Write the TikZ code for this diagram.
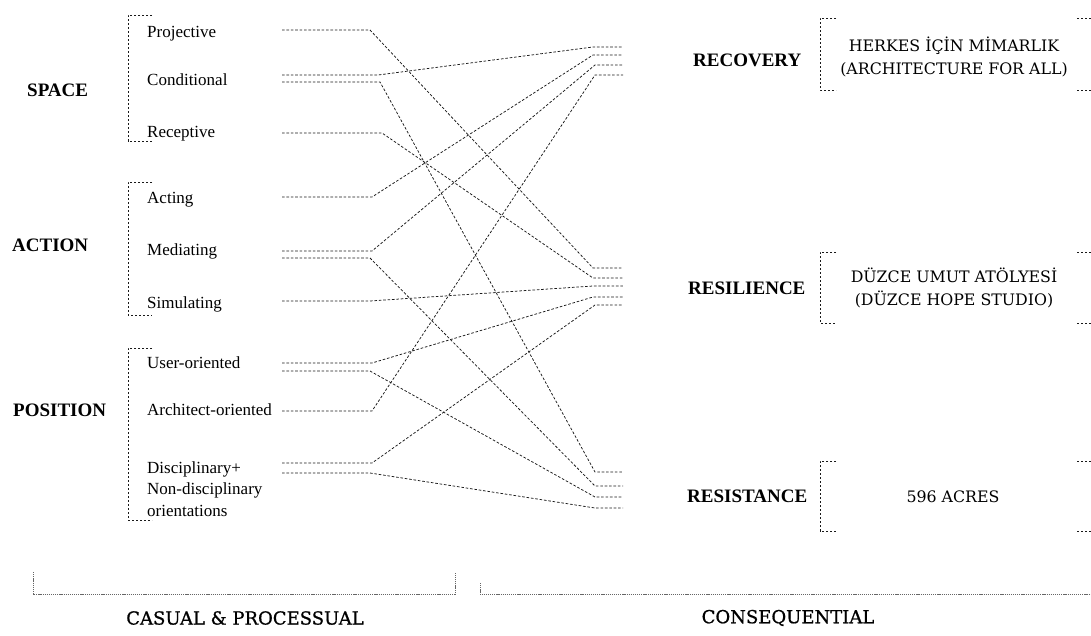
\documentclass[tikz,border=0pt]{standalone}
\usepackage{fontspec}
\setmainfont{Liberation Serif}
\newfontfamily\slab{DejaVu Serif}
\newfontfamily\slabheavy[FakeBold=0.8]{DejaVu Serif}
\begin{document}
\begin{tikzpicture}[x=1pt,y=-1pt,
  link/.style={draw=black!90, line width=0.75pt, dash pattern=on 2.6pt off 1.8pt},
  brk/.style={draw=black!90, line width=0.75pt, dash pattern=on 2.4pt off 1.6pt},
  foot/.style={draw=black!60, line width=0.6pt, dash pattern=on 1.2pt off 0.9pt},
  itemtxt/.style={anchor=base west, inner sep=0pt, font=\fontsize{17}{21}\selectfont},
  itemmulti/.style={anchor=west, inner sep=0pt, align=left, font=\fontsize{17}{21.5}\selectfont},
  cattxt/.style={anchor=base west, inner sep=0pt, font=\fontsize{19}{22}\selectfont\bfseries},
  boxtxt/.style={anchor=center, inner sep=0pt, align=center, font=\slab\fontsize{15.8}{23.5}\selectfont},
  foottxt/.style={anchor=center, inner sep=0pt, font=\slabheavy\fontsize{18}{21}\selectfont}
]
\useasboundingbox (0,0) rectangle (1091,635);

% left category labels
\node[cattxt] (space) at (27,96.5) {SPACE};
\node[cattxt] (action) at (12,251.5) {ACTION};
\node[cattxt] (position) at (13,416.5) {POSITION};

% left brackets
\draw[brk] (152,15) -- (128,15) -- (128,141) -- (152,141);
\draw[brk] (152,182) -- (128,182) -- (128,315) -- (152,315);
\draw[brk] (152,348) -- (128,348) -- (128,520) -- (152,520);

% items
\node[itemtxt] (proj) at (147,37) {Projective};
\node[itemtxt] (cond) at (147,85) {Conditional};
\node[itemtxt] (recp) at (147,137) {Receptive};
\node[itemtxt] (act) at (147,203) {Acting};
\node[itemtxt] (med) at (147,255) {Mediating};
\node[itemtxt] (sim) at (147,308) {Simulating};
\node[itemtxt] (user) at (147,368) {User-oriented};
\node[itemtxt] (arch) at (147,415) {Architect-oriented};
\node[itemmulti] (disc) at (147,489) {Disciplinary+\\Non-disciplinary\\orientations};

% right category labels
\node[cattxt] (recovery) at (693,66.5) {RECOVERY};
\node[cattxt] (resilience) at (688,294.5) {RESILIENCE};
\node[cattxt] (resistance) at (687,502.5) {RESISTANCE};

% right boxes
\draw[brk] (836,18) -- (820,18) -- (820,90) -- (836,90);
\draw[brk] (1077,18) -- (1091,18);
\draw[brk] (1077,90) -- (1091,90);
\draw[brk] (836,252) -- (820,252) -- (820,323) -- (836,323);
\draw[brk] (1077,252) -- (1091,252);
\draw[brk] (1077,323) -- (1091,323);
\draw[brk] (836,461) -- (820,461) -- (820,531) -- (836,531);
\draw[brk] (1077,461) -- (1091,461);
\draw[brk] (1077,531) -- (1091,531);

\node[boxtxt] (rect) at (954,57) {HERKES İÇİN MİMARLIK\\(ARCHITECTURE FOR ALL)};
\node[boxtxt] (rest) at (954,288) {DÜZCE UMUT ATÖLYESİ\\(DÜZCE HOPE STUDIO)};
\node[boxtxt] (rstt) at (953,497) {596 ACRES};

% stub end coordinates (left)
\coordinate (l1) at (282,30);
\coordinate (l2) at (282,75);
\coordinate (l3) at (282,82);
\coordinate (l4) at (282,133);
\coordinate (l5) at (282,197);
\coordinate (l6) at (282,251);
\coordinate (l7) at (282,258);
\coordinate (l8) at (282,301);
\coordinate (l9) at (282,363);
\coordinate (l10) at (282,371);
\coordinate (l11) at (282,411);
\coordinate (l12) at (282,463);
\coordinate (l13) at (282,473);
% stub end coordinates (right)
\coordinate (rc1) at (623,47);
\coordinate (rc2) at (623,55);
\coordinate (rc3) at (623,65);
\coordinate (rc4) at (623,75);
\coordinate (rs1) at (623,268);
\coordinate (rs2) at (623,278);
\coordinate (rs3) at (623,286);
\coordinate (rs4) at (623,297);
\coordinate (rs5) at (623,305);
\coordinate (rt1) at (623,472);
\coordinate (rt2) at (623,486);
\coordinate (rt3) at (623,497);
\coordinate (rt4) at (623,508);

% connectors
\draw[link] (l1) -- (370,30) -- (593,268) -- (rs1);
\draw[link] (l2) -- (378,75) -- (593,47) -- (rc1);
\draw[link] (l3) -- (380,82) -- (595,472) -- (rt1);
\draw[link] (l4) -- (382,133) -- (593,278) -- (rs2);
\draw[link] (l5) -- (372,197) -- (593,55) -- (rc2);
\draw[link] (l6) -- (372,251) -- (595,65) -- (rc3);
\draw[link] (l7) -- (370,258) -- (595,486) -- (rt2);
\draw[link] (l8) -- (370,301) -- (593,286) -- (rs3);
\draw[link] (l9) -- (372,363) -- (593,297) -- (rs4);
\draw[link] (l10) -- (370,371) -- (595,497) -- (rt3);
\draw[link] (l11) -- (372,411) -- (595,75) -- (rc4);
\draw[link] (l12) -- (372,463) -- (595,305) -- (rs5);
\draw[link] (l13) -- (370,473) -- (595,508) -- (rt4);

% bottom brackets and labels
\draw[foot] (33,572) -- (33,594) -- (455,594) -- (455,572);
\draw[foot] (480,583) -- (480,594) -- (1091,594);
\node[foottxt] (casual) at (245,618) {CASUAL \& PROCESSUAL};
\node[foottxt] (conseq) at (788,618) {CONSEQUENTIAL};
\end{tikzpicture}
\end{document}
